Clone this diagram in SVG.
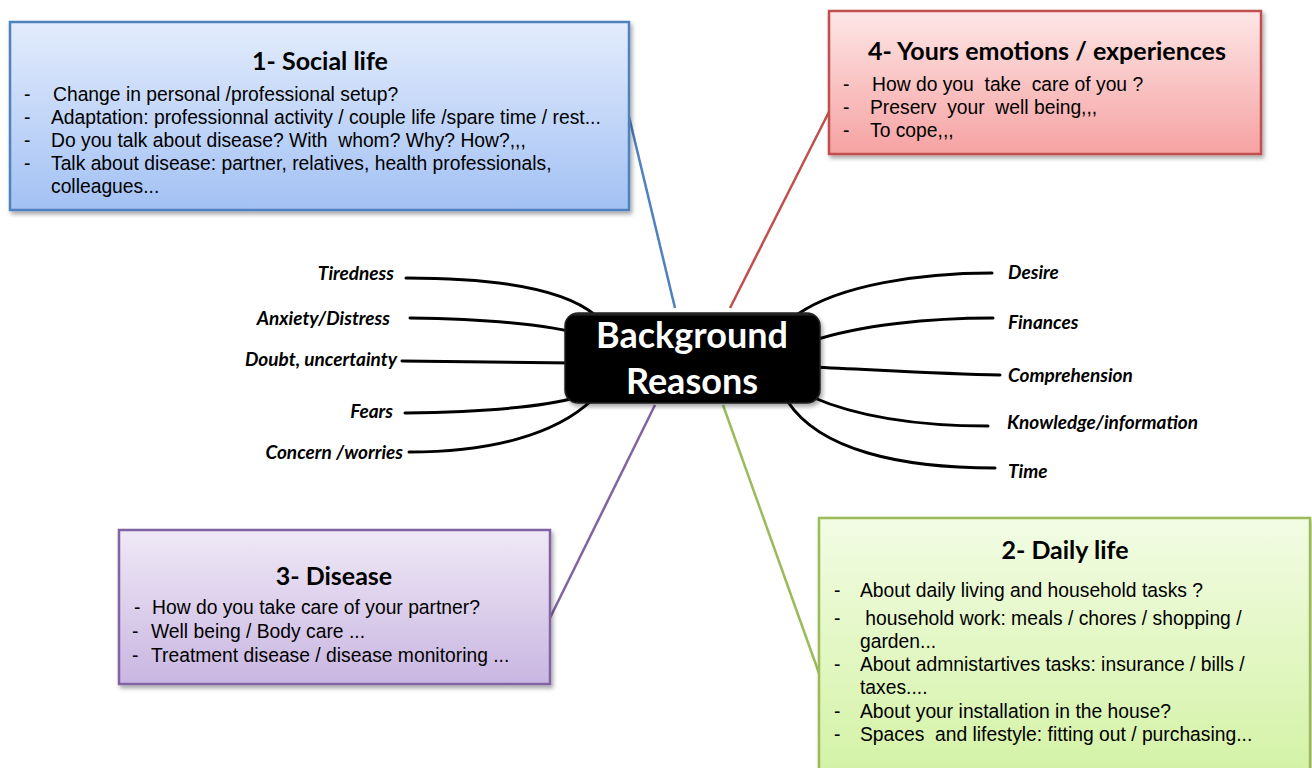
<svg xmlns="http://www.w3.org/2000/svg" width="1312" height="768" viewBox="0 0 1312 768">
  <style>
    .title { font-family: Lato, "Open Sans", sans-serif; font-weight: 700; font-size: 25px; fill: #000; text-anchor: middle; }
    .item { font-family: "Liberation Sans", Arial, sans-serif; font-size: 19.3px; fill: #000; white-space: pre; }
    .lbl { font-family: Lato, "Open Sans", sans-serif; font-weight: 700; font-style: italic; font-size: 19px; fill: #000; }
    .lbl-l { text-anchor: end; }
    .center-txt { font-family: Lato, "Open Sans", sans-serif; font-weight: 700; font-size: 36px; fill: #fff; text-anchor: middle; }
    .branch { fill: none; stroke: #000; stroke-width: 3; stroke-linecap: round; }
    .link { fill: none; stroke-width: 2.5; }
  </style>
  <defs>
    <linearGradient id="gBlue" x1="0" y1="0" x2="0" y2="1">
      <stop offset="0" stop-color="#e3ecfc"/>
      <stop offset="1" stop-color="#a3c1f4"/>
    </linearGradient>
    <linearGradient id="gRed" x1="0" y1="0" x2="0" y2="1">
      <stop offset="0" stop-color="#fde6e6"/>
      <stop offset="1" stop-color="#f6a2a2"/>
    </linearGradient>
    <linearGradient id="gPurple" x1="0" y1="0" x2="0" y2="1">
      <stop offset="0" stop-color="#efe9f6"/>
      <stop offset="1" stop-color="#c9b6e1"/>
    </linearGradient>
    <linearGradient id="gGreen" x1="0" y1="0" x2="0" y2="1">
      <stop offset="0" stop-color="#f2fce4"/>
      <stop offset="1" stop-color="#d3f2a4"/>
    </linearGradient>
    <linearGradient id="gBlack" x1="0" y1="0" x2="0" y2="1">
      <stop offset="0" stop-color="#3a3a3a"/>
      <stop offset="0.04" stop-color="#000"/>
      <stop offset="1" stop-color="#000"/>
    </linearGradient>
    <filter id="shadow" x="-5%" y="-5%" width="112%" height="118%">
      <feDropShadow dx="2" dy="3" stdDeviation="2" flood-color="#000" flood-opacity="0.35"/>
    </filter>
  </defs>

  <!-- connectors: coloured spokes and black branches -->
  <g id="connectors">
    <line class="link" x1="675" y1="308" x2="625" y2="100" stroke="#4f81bd"/>
    <line class="link" x1="730" y1="308" x2="840" y2="90" stroke="#c0504d"/>
    <line class="link" x1="655" y1="405" x2="545" y2="628" stroke="#8064a2"/>
    <line class="link" x1="723" y1="405" x2="825" y2="690" stroke="#9bbb59"/>

    <path class="branch" d="M406,278 C500,278 565,290 595,315"/>
    <path class="branch" d="M410,318 C480,319 545,323 588,336"/>
    <path class="branch" d="M402,361 L572,363"/>
    <path class="branch" d="M405,413 C480,412 540,408 578,397"/>
    <path class="branch" d="M409,452 C490,452 555,435 592,400"/>

    <path class="branch" d="M798,314 C840,285 920,273 992,273"/>
    <path class="branch" d="M812,341 C860,325 930,318 993,318"/>
    <path class="branch" d="M812,367 C880,370 940,374 1000,375"/>
    <path class="branch" d="M812,397 C860,418 920,426 988,426"/>
    <path class="branch" d="M788,402 C820,450 900,468 995,468"/>
  </g>

  <!-- branch labels -->
  <g id="labels-left">
    <text class="lbl lbl-l" x="394" y="280">Tiredness</text>
    <text class="lbl lbl-l" x="390" y="325">Anxiety/Distress</text>
    <text class="lbl lbl-l" x="397" y="366">Doubt, uncertainty</text>
    <text class="lbl lbl-l" x="393" y="418">Fears</text>
    <text class="lbl lbl-l" x="403" y="459">Concern /worries</text>
  </g>
  <g id="labels-right">
    <text class="lbl" x="1008" y="279">Desire</text>
    <text class="lbl" x="1008" y="329">Finances</text>
    <text class="lbl" x="1008" y="382">Comprehension</text>
    <text class="lbl" x="1007" y="429">Knowledge/information</text>
    <text class="lbl" x="1008" y="478">Time</text>
  </g>

  <!-- central node -->
  <g id="center">
    <rect x="565" y="313" width="255" height="90" rx="13" fill="url(#gBlack)" stroke="#222" stroke-width="1.5" filter="url(#shadow)"/>
    <text class="center-txt" x="692" y="348">Background</text>
    <text class="center-txt" x="692" y="394">Reasons</text>
  </g>

  <!-- 1 - Social life -->
  <g id="social-life">
    <rect x="10" y="22" width="619" height="188" fill="url(#gBlue)" stroke="#4f81bd" stroke-width="2.5" filter="url(#shadow)"/>
    <text class="title" x="320" y="70">1- Social life</text>
    <text class="item" x="24" y="101">-</text>
    <text class="item" x="53" y="101">Change in personal /professional setup?</text>
    <text class="item" x="24" y="124">-</text>
    <text class="item" x="51" y="124">Adaptation: professionnal activity / couple life /spare time / rest...</text>
    <text class="item" x="24" y="147">-</text>
    <text class="item" x="51" y="147">Do you talk about disease? With  whom? Why? How?,,,</text>
    <text class="item" x="24" y="170">-</text>
    <text class="item" x="51" y="170">Talk about disease: partner, relatives, health professionals,</text>
    <text class="item" x="51" y="193">colleagues...</text>
  </g>

  <!-- 4 - Emotions / experiences -->
  <g id="emotions">
    <rect x="829" y="11" width="432" height="143" fill="url(#gRed)" stroke="#c0504d" stroke-width="2.5" filter="url(#shadow)"/>
    <text class="title" x="1047" y="60">4- Yours emotions / experiences</text>
    <text class="item" x="843" y="91">-</text>
    <text class="item" x="872" y="91">How do you  take  care of you ?</text>
    <text class="item" x="843" y="114">-</text>
    <text class="item" x="870" y="114">Preserv  your  well being,,,</text>
    <text class="item" x="843" y="137">-</text>
    <text class="item" x="870" y="137">To cope,,,</text>
  </g>

  <!-- 3 - Disease -->
  <g id="disease">
    <rect x="119" y="530" width="431" height="154" fill="url(#gPurple)" stroke="#8064a2" stroke-width="2.5" filter="url(#shadow)"/>
    <text class="title" x="334" y="585">3- Disease</text>
    <text class="item" x="134" y="614" font-size="15">-</text>
    <text class="item" x="152" y="614">How do you take care of your partner?</text>
    <text class="item" x="132" y="638">-</text>
    <text class="item" x="151" y="638">Well being / Body care ...</text>
    <text class="item" x="132" y="662">-</text>
    <text class="item" x="151" y="662">Treatment disease / disease monitoring ...</text>
  </g>

  <!-- 2 - Daily life -->
  <g id="daily-life">
    <rect x="819" y="518" width="491" height="262" fill="url(#gGreen)" stroke="#9bbb59" stroke-width="2.5" filter="url(#shadow)"/>
    <text class="title" x="1065" y="559">2- Daily life</text>
    <text class="item" x="834" y="597">-</text>
    <text class="item" x="860" y="597">About daily living and household tasks ?</text>
    <text class="item" x="834" y="625">-</text>
    <text class="item" x="860" y="625"> household work: meals / chores / shopping /</text>
    <text class="item" x="860" y="648">garden...</text>
    <text class="item" x="834" y="671">-</text>
    <text class="item" x="860" y="671">About admnistartives tasks: insurance / bills /</text>
    <text class="item" x="860" y="694">taxes....</text>
    <text class="item" x="834" y="718">-</text>
    <text class="item" x="860" y="718">About your installation in the house?</text>
    <text class="item" x="834" y="741">-</text>
    <text class="item" x="860" y="741">Spaces  and lifestyle: fitting out / purchasing...</text>
  </g>
</svg>
